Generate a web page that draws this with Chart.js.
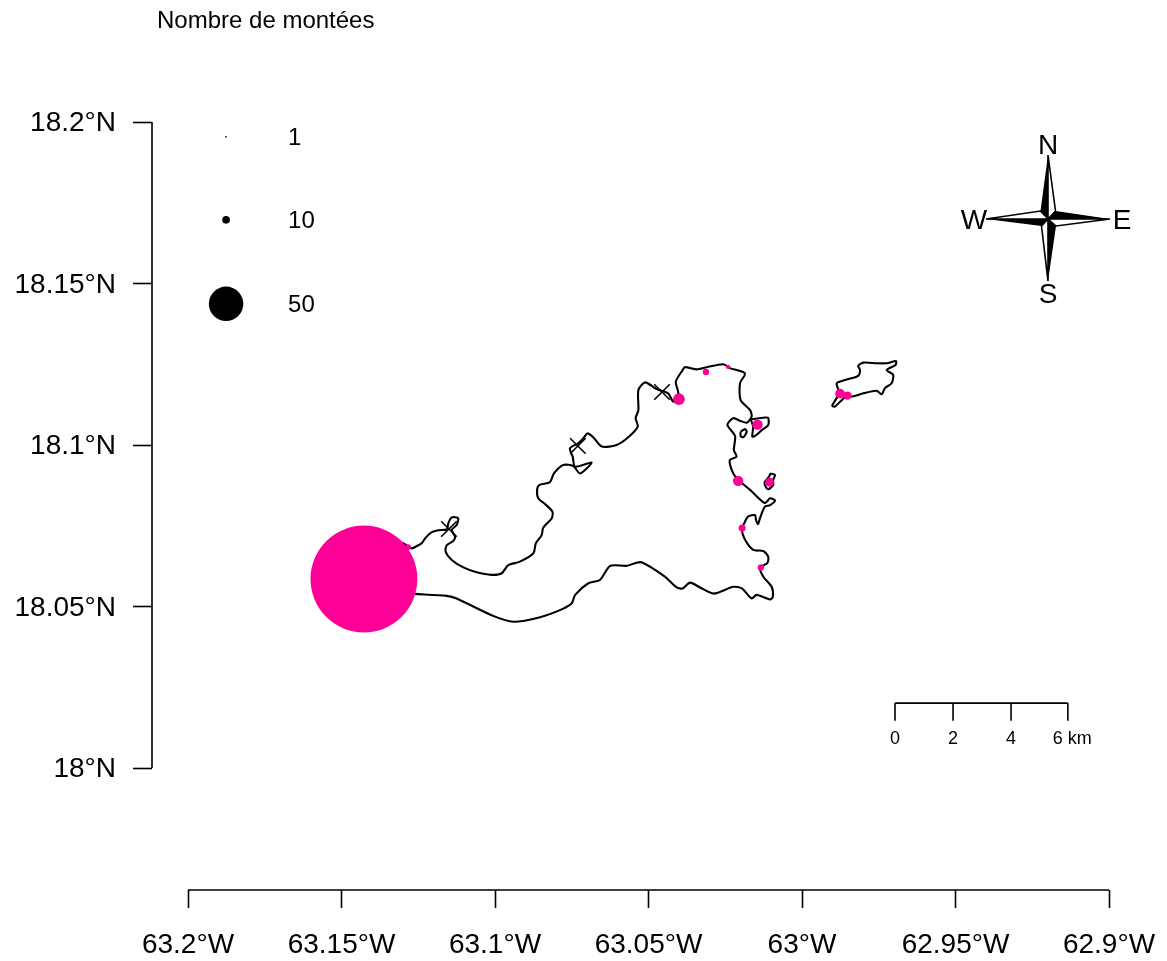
<!DOCTYPE html>
<html lang="fr">
<head>
  <meta charset="UTF-8" />
  <title>Nombre de montées</title>
  <style>
    html, body { margin: 0; padding: 0; background: #fff; }
    canvas { display: block; }
  </style>
</head>
<body>
<canvas id="mapChart" width="1167" height="961"></canvas>

<script src="https://cdn.jsdelivr.net/npm/chart.js"></script>
<script>
  // axis ticks
  const lonTicks = [-63.2, -63.15, -63.1, -63.05, -63, -62.95, -62.9];
  const lonLabels = ["63.2°W", "63.15°W", "63.1°W", "63.05°W", "63°W", "62.95°W", "62.9°W"];
  const latTicks = [18, 18.05, 18.1, 18.15, 18.2];
  const latLabels = ["18°N", "18.05°N", "18.1°N", "18.15°N", "18.2°N"];

  // main island, closed through the big circle
  const mainLon = [-63.1300, -63.1271, -63.1255, -63.1239, -63.1225, -63.1206, -63.1185, -63.1157, -63.1152, -63.1141,
    -63.1120, -63.1125, -63.1141, -63.1130, -63.1136, -63.1157, -63.1161, -63.1141, -63.1103, -63.1060,
    -63.1011, -63.0978, -63.0957, -63.0919, -63.0875, -63.0867, -63.0848, -63.0843, -63.0815, -63.0813,
    -63.0837, -63.0859, -63.0863, -63.0856, -63.0821, -63.0808, -63.0778, -63.0745, -63.0723, -63.0685,
    -63.0739, -63.0747, -63.0756, -63.0729, -63.0712, -63.0699, -63.0680, -63.0652, -63.0604, -63.0566,
    -63.0535, -63.0542, -63.0533, -63.0533, -63.0511, -63.0473, -63.0436, -63.0419, -63.0403, -63.0411,
    -63.0389, -63.0381, -63.0343, -63.0310, -63.0256, -63.0235, -63.0186, -63.0202, -63.0200, -63.0169,
    -63.0164, -63.0180, -63.0202, -63.0224, -63.0243, -63.0218, -63.0222, -63.0213, -63.0235, -63.0229,
    -63.0213, -63.0169, -63.0121, -63.0104, -63.0088, -63.0104, -63.0121, -63.0137, -63.0143, -63.0150,
    -63.0153, -63.0176, -63.0188, -63.0196, -63.0188, -63.0159, -63.0126, -63.0110, -63.0113, -63.0137,
    -63.0126, -63.0099, -63.0095, -63.0104, -63.0148, -63.0164, -63.0196, -63.0224, -63.0287, -63.0332,
    -63.0365, -63.0389, -63.0408, -63.0446, -63.0524, -63.0571, -63.0625, -63.0658, -63.0696, -63.0739,
    -63.0750, -63.0783, -63.0853, -63.0940, -63.1006, -63.1125, -63.1157, -63.1261, -63.1407, -63.1300];
  const mainLat = [18.0697, 18.0680, 18.0687, 18.0696, 18.0714, 18.0730, 18.0736, 18.0739, 18.0758, 18.0776,
    18.0773, 18.0752, 18.0737, 18.0716, 18.0703, 18.0690, 18.0670, 18.0644, 18.0621, 18.0606,
    18.0598, 18.0603, 18.0628, 18.0639, 18.0665, 18.0696, 18.0721, 18.0744, 18.0773, 18.0794,
    18.0817, 18.0835, 18.0861, 18.0876, 18.0885, 18.0912, 18.0938, 18.0935, 18.0912, 18.0946,
    18.0933, 18.0964, 18.0990, 18.1005, 18.1021, 18.1036, 18.1024, 18.0995, 18.1000, 18.1024,
    18.1057, 18.1083, 18.1108, 18.1170, 18.1194, 18.1173, 18.1160, 18.1134, 18.1160, 18.1196,
    18.1232, 18.1241, 18.1234, 18.1241, 18.1250, 18.1238, 18.1222, 18.1191, 18.1139, 18.1108,
    18.1088, 18.1069, 18.1075, 18.1083, 18.1062, 18.1028, 18.0984, 18.0964, 18.0954, 18.0923,
    18.0897, 18.0861, 18.0820, 18.0835, 18.0828, 18.0814, 18.0809, 18.0773, 18.0755, 18.0768,
    18.0783, 18.0778, 18.0758, 18.0742, 18.0711, 18.0675, 18.0672, 18.0654, 18.0634, 18.0621,
    18.0592, 18.0561, 18.0530, 18.0522, 18.0536, 18.0525, 18.0556, 18.0561, 18.0540, 18.0559,
    18.0574, 18.0556, 18.0559, 18.0592, 18.0637, 18.0626, 18.0626, 18.0582, 18.0572, 18.0536,
    18.0510, 18.0491, 18.0467, 18.0453, 18.0471, 18.0525, 18.0533, 18.0539, 18.0548, 18.0697];

  // islets and the north-east island
  const bayIsletLon = [-63.0163, -63.0121, -63.0110, -63.0110, -63.0131, -63.0153, -63.0162, -63.0159, -63.0166, -63.0163];
  const bayIsletLat = [18.1080, 18.1085, 18.1084, 18.1062, 18.1046, 18.1028, 18.1026, 18.1057, 18.1077, 18.1080];
  const ovalLon = [-63.0200, -63.0186, -63.0180, -63.0191, -63.0200, -63.0200];
  const ovalLat = [18.1041, 18.1049, 18.1041, 18.1024, 18.1028, 18.1041];
  const eastIsletLon = [-63.0104, -63.0088, -63.0094, -63.0094, -63.0110, -63.0121, -63.0121, -63.0106, -63.0104];
  const eastIsletLat = [18.0912, 18.0907, 18.0892, 18.0876, 18.0863, 18.0876, 18.0886, 18.0904, 18.0912];
  const scrubLon = [-62.9903, -62.9887, -62.9878, -62.9887, -62.9860, -62.9817, -62.9811, -62.9817, -62.9800, -62.9757,
    -62.9724, -62.9694, -62.9695, -62.9724, -62.9703, -62.9708, -62.9730, -62.9740, -62.9757, -62.9800,
    -62.9838, -62.9854, -62.9876, -62.9893, -62.9903];
  const scrubLat = [18.1121, 18.1145, 18.1160, 18.1191, 18.1201, 18.1214, 18.1232, 18.1245, 18.1255, 18.1253,
    18.1253, 18.1260, 18.1248, 18.1232, 18.1217, 18.1191, 18.1176, 18.1157, 18.1168, 18.1160,
    18.1150, 18.1152, 18.1134, 18.1119, 18.1121];

  // sites with the number of climbs
  const siteLon = [-63.1427, -63.1283, -63.0401, -63.0313, -63.0241, -63.0145, -63.0208, -63.0106, -63.0195, -63.0134, -62.9876, -62.9852];
  const siteLat = [18.0585, 18.0684, 18.1142, 18.1226, 18.1242, 18.1063, 18.0889, 18.0885, 18.0743, 18.0621, 18.1159, 18.1153];
  const siteCount = [158, 7, 16, 8, 5, 14, 14, 12, 9, 8, 13, 11];

  // sites without any climb
  const zeroLon = [-63.0456, -63.0730, -63.1150];
  const zeroLat = [18.1164, 18.0997, 18.0740];

  // size legend
  const legendCounts = [1, 10, 50];
  const legendLat = [18.1954, 18.1697, 18.1437];
  const legendLon = -63.1876;
  const legendTextLon = -63.1674;

  // scale bar
  const barLon = [-62.9697, -62.9508, -62.9319, -62.9134];
  const barLabels = ["0", "2", "4", "6 km"];
  const barTopLat = 18.0201;
  const barBottomLat = 18.0146;

  const PINK = "#ff0096";
  const FONT = '"Liberation Sans", Arial, sans-serif';

  function radiusFor(count) {
    return count * 0.335 + 0.5;
  }

  function points(lons, lats) {
    return lons.map((lon, i) => ({ x: lon, y: lats[i] }));
  }

  function coastDataset(lons, lats) {
    return {
      type: "line",
      data: points(lons, lats),
      borderColor: "#000",
      borderWidth: 2.1,
      borderJoinStyle: "round",
      pointRadius: 0,
      fill: false,
      tension: 0.25,
      clip: false,
      order: 3,
    };
  }

  // axis lines, scale bar, compass and texts
  const mapExtras = {
    id: "mapExtras",
    afterDraw(chart) {
      const ctx = chart.ctx;
      const xs = chart.scales.x;
      const ys = chart.scales.y;
      ctx.save();
      ctx.strokeStyle = "#000";
      ctx.fillStyle = "#000";
      ctx.lineWidth = 1.6;
      ctx.lineCap = "butt";

      // axis lines only run between first and last tick
      ctx.beginPath();
      ctx.moveTo(xs.getPixelForValue(lonTicks[0]), chart.chartArea.bottom);
      ctx.lineTo(xs.getPixelForValue(lonTicks[lonTicks.length - 1]), chart.chartArea.bottom);
      ctx.moveTo(chart.chartArea.left, ys.getPixelForValue(latTicks[0]));
      ctx.lineTo(chart.chartArea.left, ys.getPixelForValue(latTicks[latTicks.length - 1]));
      ctx.stroke();

      ctx.textBaseline = "middle";
      ctx.textAlign = "left";
      ctx.font = "24px " + FONT;
      ctx.fillText("Nombre de montées", 157, 21);
      legendCounts.forEach((count, i) => {
        ctx.fillText(String(count), xs.getPixelForValue(legendTextLon), ys.getPixelForValue(legendLat[i]) + 2);
      });

      // scale bar
      const barTop = ys.getPixelForValue(barTopLat);
      const barBottom = ys.getPixelForValue(barBottomLat);
      ctx.beginPath();
      ctx.moveTo(xs.getPixelForValue(barLon[0]), barTop);
      ctx.lineTo(xs.getPixelForValue(barLon[barLon.length - 1]), barTop);
      barLon.forEach((lon) => {
        const px = xs.getPixelForValue(lon);
        ctx.moveTo(px, barTop);
        ctx.lineTo(px, barBottom);
      });
      ctx.stroke();
      ctx.font = "18px " + FONT;
      barLabels.forEach((label, i) => {
        const px = xs.getPixelForValue(barLon[i]);
        const half = ctx.measureText(label[0]).width / 2;
        ctx.fillText(label, i === 3 ? px - 15 : px - half, 739);
      });

      // compass
      const cx = 1048, cy = 219;
      const tips = [[0, -64], [62, 0], [0, 62], [-62, 0]];
      const wings = [[-7.5, -8], [7.5, -8], [8, 7], [-6.5, 7]];
      const right = [[7.5, -8], [8, 7], [-6.5, 7], [-7.5, -8]];
      tips.forEach((tip, i) => {
        ctx.beginPath();
        ctx.moveTo(cx + tip[0], cy + tip[1]);
        ctx.lineTo(cx + wings[i][0], cy + wings[i][1]);
        ctx.lineTo(cx, cy);
        ctx.closePath();
        ctx.fill();
        ctx.beginPath();
        ctx.moveTo(cx + tip[0], cy + tip[1]);
        ctx.lineTo(cx + right[i][0], cy + right[i][1]);
        ctx.lineTo(cx, cy);
        ctx.closePath();
        ctx.lineWidth = 1.6;
        ctx.stroke();
      });
      ctx.font = "28px " + FONT;
      ctx.textAlign = "center";
      ctx.fillText("N", 1048, 146);
      ctx.fillText("S", 1048, 295);
      ctx.fillText("W", 974, 221);
      ctx.fillText("E", 1122, 221);
      ctx.restore();
    },
  };

  new Chart(document.getElementById("mapChart"), {
    type: "scatter",
    data: {
      datasets: [
        {
          // numbers of climbs
          data: points(siteLon, siteLat),
          backgroundColor: PINK,
          pointRadius: siteCount.map(radiusFor),
          pointBorderWidth: 0,
          clip: false,
          order: 2,
        },
        {
          data: points(zeroLon, zeroLat),
          pointStyle: "crossRot",
          borderColor: "#000",
          pointBorderWidth: 1.6,
          pointRadius: 11,
          clip: false,
          order: 1,
        },
        {
          data: legendLat.map((lat) => ({ x: legendLon, y: lat })),
          backgroundColor: "#000",
          pointRadius: legendCounts.map(radiusFor),
          pointBorderWidth: 0,
          clip: false,
          order: 1,
        },
        coastDataset(mainLon, mainLat),
        coastDataset(bayIsletLon, bayIsletLat),
        coastDataset(ovalLon, ovalLat),
        coastDataset(eastIsletLon, eastIsletLat),
        coastDataset(scrubLon, scrubLat),
      ],
    },
    options: {
      responsive: false,
      animation: false,
      layout: { padding: { top: 122, right: 58, left: 0, bottom: 0 } },
      plugins: { legend: { display: false }, tooltip: { enabled: false } },
      scales: {
        x: {
          type: "linear",
          min: -63.21173,
          max: -62.9,
          afterBuildTicks(scale) {
            scale.ticks = lonTicks.map((v) => ({ value: v }));
          },
          afterFit(scale) {
            // labels may overhang, the plot box has to stay fixed
            scale.height = 71;
            scale.paddingLeft = 0;
            scale.paddingRight = 0;
          },
          border: { display: false },
          grid: { drawOnChartArea: false, tickLength: 18, tickColor: "#000", tickWidth: 1.6 },
          ticks: {
            autoSkip: false,
            maxRotation: 0,
            padding: 20,
            color: "#000",
            font: { family: FONT, size: 28 },
            callback: (value, i) => lonLabels[i],
          },
        },
        y: {
          type: "linear",
          min: 17.96223,
          max: 18.2,
          afterBuildTicks(scale) {
            scale.ticks = latTicks.map((v) => ({ value: v }));
          },
          afterFit(scale) {
            scale.width = 152;
            scale.paddingTop = 0;
            scale.paddingBottom = 0;
          },
          border: { display: false },
          grid: { drawOnChartArea: false, tickLength: 19, tickColor: "#000", tickWidth: 1.6 },
          ticks: {
            autoSkip: false,
            padding: 17,
            labelOffset: 1.5,
            color: "#000",
            font: { family: FONT, size: 28 },
            callback: (value, i) => latLabels[i],
          },
        },
      },
    },
    plugins: [mapExtras],
  });
</script>
</body>
</html>
